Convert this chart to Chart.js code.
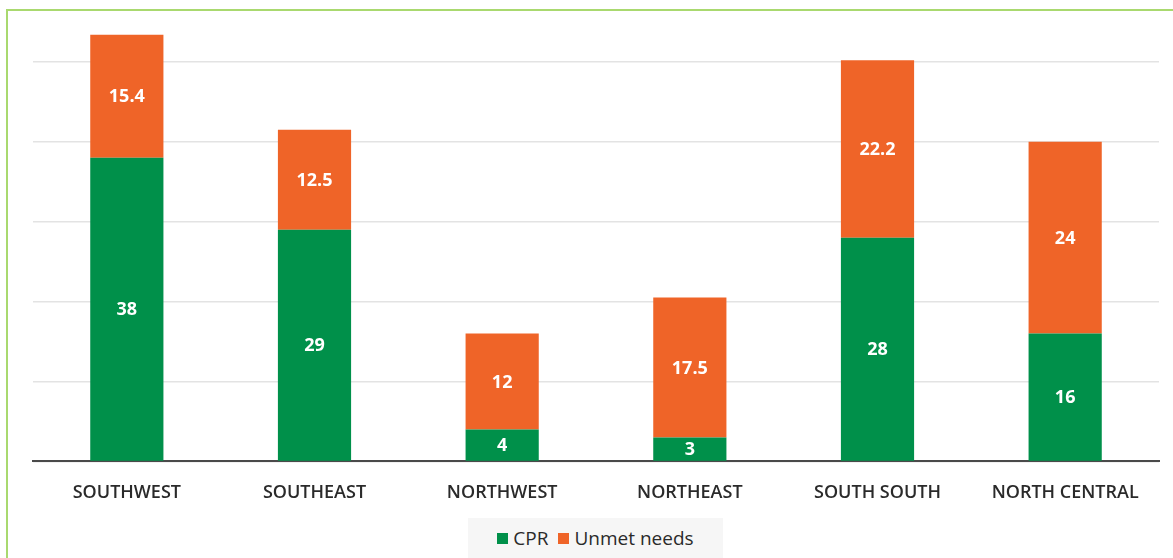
<!DOCTYPE html>
<html>
<head>
<meta charset="utf-8">
<script src="https://cdn.jsdelivr.net/npm/chart.js@4"></script>
<style>
  body { margin: 0; background: #fff; overflow: hidden; }
  .frame {
    position: absolute; left: 6px; top: 9px; width: 1200px; height: 600px;
    border-left: 2px solid #a9d96f; border-top: 2px solid #a9d96f;
  }
  #chart { position: absolute; left: 0; top: 0; }
  .legend {
    position: absolute; left: 468px; top: 518px; width: 255px; height: 40px;
    background: #f6f6f6; font: 19px "Open Sans", sans-serif; color: #2a2a2a;
    display: flex; align-items: center; justify-content: center; gap: 10px;
  }
  .legend span { display: inline-flex; align-items: center; gap: 5px; }
  .legend i { display: inline-block; width: 11px; height: 11px; }
</style>
</head>
<body>
<div class="frame"></div>
<canvas id="chart" width="1173" height="558"></canvas>
<div class="legend">
  <span><i style="background:#00904a"></i>CPR</span>
  <span><i style="background:#ef6428"></i>Unmet needs</span>
</div>
<script>
const regions = ["SOUTHWEST", "SOUTHEAST", "NORTHWEST", "NORTHEAST", "SOUTH SOUTH", "NORTH CENTRAL"];
const cpr = [38, 29, 4, 3, 28, 16];
const unmetNeeds = [15.4, 12.5, 12, 17.5, 22.2, 24];

// white value labels centred in each stacked segment
const barLabels = {
  id: "barLabels",
  afterDatasetsDraw(chart) {
    const ctx = chart.ctx;
    ctx.save();
    ctx.font = 'bold 18px "Open Sans", sans-serif';
    ctx.fillStyle = "#fff";
    ctx.textAlign = "center";
    ctx.textBaseline = "middle";
    chart.data.datasets.forEach((ds, i) => {
      chart.getDatasetMeta(i).data.forEach((bar, j) => {
        const { x, y, base } = bar.getProps(["x", "y", "base"], true);
        ctx.fillText(ds.data[j], x, (y + base) / 2 + 1);
      });
    });
    ctx.restore();
  },
};

new Chart(document.getElementById("chart"), {
  type: "bar",
  data: {
    labels: regions,
    datasets: [
      { label: "CPR", data: cpr, backgroundColor: "#00904a" },
      { label: "Unmet needs", data: unmetNeeds, backgroundColor: "#ef6428" },
    ],
  },
  options: {
    responsive: false,
    animation: false,
    layout: { padding: { left: 33, right: 14, top: 22, bottom: 33 } },
    datasets: { bar: { barPercentage: 0.39, categoryPercentage: 1 } },
    plugins: { legend: { display: false }, tooltip: { enabled: false } },
    scales: {
      x: {
        stacked: true,
        grid: { display: false, drawTicks: false },
        border: { color: "#4a4a4a", width: 2 },
        ticks: {
          padding: 21,
          color: "#2a2a2a",
          font: { family: "Open Sans", size: 18, weight: "600" },
        },
      },
      y: {
        stacked: true,
        min: 0,
        max: 55,
        border: { display: false },
        grid: {
          drawTicks: false,
          lineWidth: 1.5,
          color: (c) => (c.tick && c.tick.value === 55 ? "rgba(0,0,0,0)" : "#e3e3e3"),
        },
        ticks: { display: false, stepSize: 10 },
      },
    },
  },
  plugins: [barLabels],
});
</script>
</body>
</html>
